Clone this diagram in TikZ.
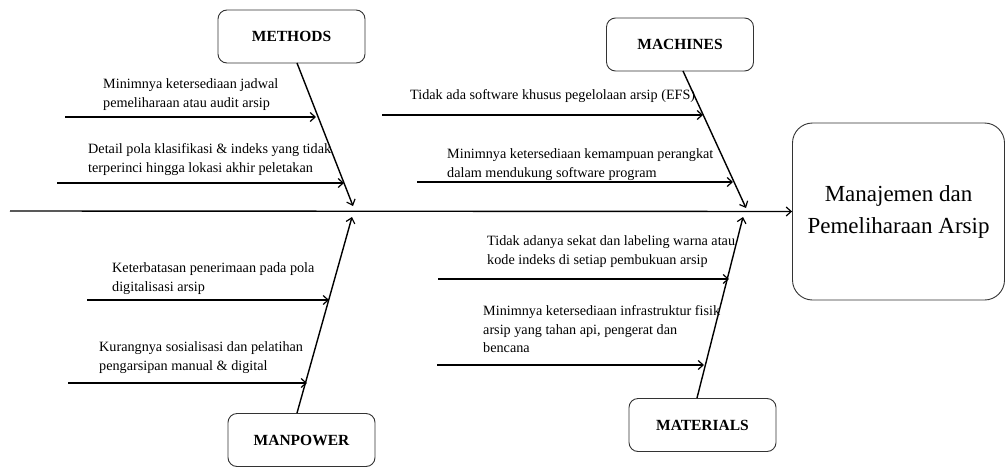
\documentclass[tikz,border=0pt]{standalone}
\usepackage{fontspec}
\setmainfont{Liberation Serif}
\usetikzlibrary{arrows.meta}
\begin{document}
\begin{tikzpicture}[x=1pt,y=-1pt,
  catbox/.style={draw=black!80, line width=0.9pt, rounded corners=9pt, minimum width=147pt, minimum height=53pt, font=\fontsize{15.5}{18}\selectfont\bfseries, inner sep=0pt},
  effbox/.style={draw=black!80, line width=0.9pt, rounded corners=20pt, minimum width=212pt, minimum height=177pt, align=center, font=\fontsize{23}{32}\selectfont, inner sep=0pt},
  causetxt/.style={anchor=north west, align=left, inner sep=0pt, font=\fontsize{14.2}{18.5}\selectfont},
  arr/.style={line width=1.4pt, -{Straight Barb[length=5pt,width=9pt,line width=1.2pt]}},
]
\useasboundingbox (0,0) rectangle (1006,466);
% effect
\node[effbox] (eff) at (898.5,211.5) {Manajemen dan\\Pemeliharaan Arsip};
% spine
\coordinate (sp0) at (10,211);
\draw[arr] (sp0) -- (eff.west);
% category boxes
\node[catbox] (methods) at (291.5,36.5) {METHODS};
\node[catbox] (machines) at (680,44.5) {MACHINES};
\node[catbox] (manpower) at (301.5,440) {MANPOWER};
\node[catbox] (materials) at (702.5,425) {MATERIALS};
% bones
\coordinate (mb) at (297,63);   \coordinate (mt) at (353,206);
\coordinate (cb) at (683,71);   \coordinate (ct) at (746,208);
\coordinate (pb) at (297,413);  \coordinate (pt) at (352,217);
\coordinate (tb) at (697,398);  \coordinate (tt) at (743,217);
\draw[arr] (mb) -- (mt);
\draw[arr] (cb) -- (ct);
\draw[arr] (pb) -- (pt);
\draw[arr] (tb) -- (tt);
% methods causes
\coordinate (m1a) at (65,117);  \coordinate (m1b) at (316,117);
\coordinate (m2a) at (57,183);  \coordinate (m2b) at (344,183);
\draw[arr] (m1a) -- (m1b);
\draw[arr] (m2a) -- (m2b);
\node[causetxt] (m1t) at (103,78.5) {Minimnya ketersediaan jadwal\\pemeliharaan atau audit arsip};
\node[causetxt] (m2t) at (88,143.5) {Detail pola klasifikasi \& indeks yang tidak\\terperinci hingga lokasi akhir peletakan};
% machines causes
\coordinate (c1a) at (382,115); \coordinate (c1b) at (703,115);
\coordinate (c2a) at (417,182); \coordinate (c2b) at (733,182);
\draw[arr] (c1a) -- (c1b);
\draw[arr] (c2a) -- (c2b);
\node[causetxt] (c1t) at (410,89.5) {Tidak ada software khusus pegelolaan arsip (EFS)};
\node[causetxt] (c2t) at (447,148.5) {Minimnya ketersediaan kemampuan perangkat\\dalam mendukung software program};
% manpower causes
\coordinate (p1a) at (87,300);  \coordinate (p1b) at (329,300);
\coordinate (p2a) at (68,383);  \coordinate (p2b) at (307,383);
\draw[arr] (p1a) -- (p1b);
\draw[arr] (p2a) -- (p2b);
\node[causetxt] (p1t) at (112,262.5) {Keterbatasan penerimaan pada pola\\digitalisasi arsip};
\node[causetxt] (p2t) at (99,341.5) {Kurangnya sosialisasi dan pelatihan\\pengarsipan manual \& digital};
% materials causes
\coordinate (t1a) at (438,279); \coordinate (t1b) at (729,279);
\coordinate (t2a) at (437,365); \coordinate (t2b) at (704,365);
\draw[arr] (t1a) -- (t1b);
\draw[arr] (t2a) -- (t2b);
\node[causetxt] (t1t) at (487,235.5) {Tidak adanya sekat dan labeling warna atau\\kode indeks di setiap pembukuan arsip};
\node[causetxt] (t2t) at (483,305.5) {Minimnya ketersediaan infrastruktur fisik\\arsip yang tahan api, pengerat dan\\bencana};
\end{tikzpicture}
\end{document}
